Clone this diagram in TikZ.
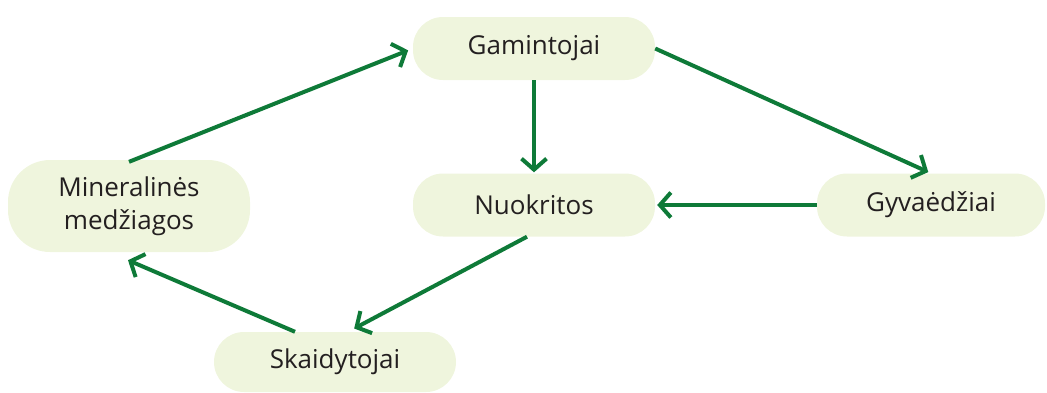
\documentclass[tikz,border=0pt]{standalone}
\usepackage{fontspec}
\setmainfont{Open Sans}
\usetikzlibrary{arrows.meta,calc}
\definecolor{nodefill}{HTML}{EFF5DD}
\definecolor{arrowgreen}{HTML}{0E7A38}
\definecolor{txt}{HTML}{231F20}
\begin{document}
\begin{tikzpicture}[x=1pt,y=-1pt,
 box/.style={fill=nodefill,rounded corners=30pt,minimum width=242pt,minimum height=63pt,inner sep=0pt,align=center,text=txt,font=\fontsize{26}{33}\selectfont},
 conn/.style={draw=arrowgreen,line width=4pt,-{Straight Barb[length=11pt,width=25pt]}}]
\useasboundingbox (0,0) rectangle (1047,392);
\node[box] (gam) at (534,48.5) {Gamintojai};
\node[box,minimum height=92pt,rounded corners=42pt] (min) at (129,206) {Mineralinės\\medžiagos};
\node[box] (nuo) at (534,205) {Nuokritos};
\node[box,minimum width=228pt] (gyv) at (931,205) {Gyvaėdžiai};
\node[box,minimum height=60pt] (ska) at (335,362) {Skaidytojai};
\draw[conn,shorten >=5pt] ($(min.north)+(0,2)$) -- (gam.west);
\draw[conn,shorten >=3pt] (gam.east) -- (gyv.north);
\draw[conn,shorten >=1pt] (gam.south) -- (nuo.north);
\draw[conn,shorten >=2pt] (gyv.west) -- (nuo.east);
\draw[conn,shorten >=7pt] ($(nuo.south)+(-7,0)$) -- ($(ska.north)+(13,0)$);
\draw[conn] ($(ska.north)+(-40,0)$) -- ($(min.south)+(-1,8)$);
\end{tikzpicture}
\end{document}
